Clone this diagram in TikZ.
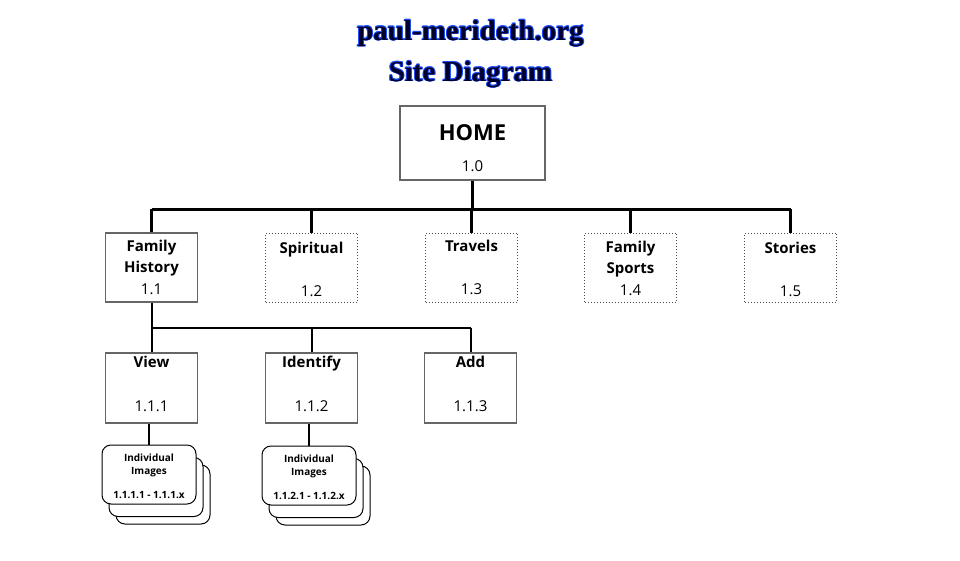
\documentclass[tikz,border=0pt]{standalone}
\usepackage{fontspec}
\setmainfont{Open Sans}
\newfontfamily\titlefont{Liberation Serif}
\usepackage{xcolor}
\definecolor{navy}{HTML}{00002A}
\definecolor{glow}{HTML}{1E50FF}
\definecolor{rim}{HTML}{666666}

\begin{document}
\begin{tikzpicture}[x=1pt,y=-1pt,
		box/.style={draw=rim,line width=1.2pt,minimum width=#1,minimum height=70pt,inner sep=0pt},
		box/.default=92pt,
		dotbox/.style={draw=black!70,dotted,line width=1pt,minimum width=92pt,minimum height=69pt,inner sep=0pt},
		pile/.style={draw,fill=white,rounded corners=9pt,line width=1pt,minimum width=94pt,minimum height=59pt,inner sep=0pt},
		head/.style={anchor=base,font=\bfseries\fontsize{15}{15}\selectfont},
		num/.style={anchor=base,font=\fontsize{15}{15}\selectfont},
		tiny/.style={anchor=base,font=\bfseries\fontsize{10}{10}\selectfont},
		title/.style={anchor=base,font=\titlefont\bfseries\fontsize{29}{29}\selectfont}]
			\useasboundingbox (0,0) rectangle (960,560);
			% title, with a blue halo behind it
			\foreach \dx/\dy [count=\i] in {-0.9/0,0.9/0,0/-0.9,0/0.9,-0.6/-0.6,0.6/-0.6,-0.6/0.6,0.6/0.6}{
				\node[title,text=glow] (t1s\i) at (470.5+\dx,40+\dy) {paul-merideth.org};
				\node[title,text=glow] (t2s\i) at (470.5+\dx,81+\dy) {Site Diagram};
			}
			\node[title,text=navy] (t1) at (470.5,40) {paul-merideth.org};
			\node[title,text=navy] (t2) at (470.5,81) {Site Diagram};
			% home
			\node[box=145pt,minimum height=74pt] (home) at (472.5,143) {};
			\node[head,font=\bfseries\fontsize{22}{22}\selectfont] (home-t) at (472.5,140) {HOME};
			\node[num,font=\fontsize{15}{15}\selectfont] (home-n) at (472.5,171) {1.0};
			% first level
			\node[box,minimum height=69pt] (fh) at (151.5,267.5) {};
			\node[dotbox] (sp) at (311.5,267.5) {};
			\node[dotbox] (tr) at (471.5,267.5) {};
			\node[dotbox] (fs) at (630.5,267.5) {};
			\node[dotbox] (st) at (790.5,267.5) {};
			\node[head] (fh-t) at (151.5,251) {Family};
			\node[head] (fh-u) at (151.5,272) {History};
			\node[num] (fh-n) at (151.5,294) {1.1};
			\node[head] (sp-t) at (311.5,253) {Spiritual};
			\node[num] (sp-n) at (311.5,296) {1.2};
			\node[head] (tr-t) at (471.5,251) {Travels};
			\node[num] (tr-n) at (471.5,294) {1.3};
			\node[head] (fs-t) at (630.5,252) {Family};
			\node[head] (fs-u) at (630.5,273) {Sports};
			\node[num] (fs-n) at (630.5,295) {1.4};
			\node[head] (st-t) at (790.5,253) {Stories};
			\node[num] (st-n) at (790.5,296) {1.5};
			\coordinate (bus) at (0,209);
			\draw[line width=3pt] (home.south) -- (home.south |- bus);
			\draw[line width=3pt] (fh.north |- bus) -- (st.north |- bus);
			\foreach \n in {fh,sp,tr,fs,st}
				\draw[line width=3pt] (\n.north) -- (\n.north |- bus);
			% second level
			\node[box] (vw) at (151.5,388) {};
			\node[box] (id) at (311.5,388) {};
			\node[box] (ad) at (470.5,388) {};
			\node[head] (vw-t) at (151.5,367) {View};
			\node[num] (vw-n) at (151.5,411) {1.1.1};
			\node[head] (id-t) at (311.5,367) {Identify};
			\node[num] (id-n) at (311.5,411) {1.1.2};
			\node[head] (ad-t) at (470.5,367) {Add};
			\node[num] (ad-n) at (470.5,411) {1.1.3};
			\coordinate (sub) at (0,328);
			\draw[line width=2pt] (fh.south) -- (fh.south |- sub);
			\draw[line width=2pt] (fh.south |- sub) -- (ad.north |- sub);
			\foreach \n in {vw,id,ad}
				\draw[line width=2pt] (\n.north) -- (\n.north |- sub);
			% image piles
			\node[pile] (vw-p3) at (163,494.5) {};
			\node[pile] (vw-p2) at (156,487) {};
			\node[pile] (vw-p1) at (149,474.5) {};
			\node[pile] (id-p3) at (323,495.5) {};
			\node[pile] (id-p2) at (316,488) {};
			\node[pile] (id-p1) at (309,475.5) {};
			\node[tiny] (vw-a) at (149,461) {Individual};
			\node[tiny] (vw-b) at (149,474) {Images};
			\node[tiny] (vw-c) at (149,498) {1.1.1.1 - 1.1.1.x};
			\node[tiny] (id-a) at (309,462) {Individual};
			\node[tiny] (id-b) at (309,475) {Images};
			\node[tiny] (id-c) at (309,499) {1.1.2.1 - 1.1.2.x};
			\draw[line width=2pt] (vw.south -| vw-p1.north) -- (vw-p1.north);
			\draw[line width=2pt] (id.south -| id-p1.north) -- (id-p1.north);
		\end{tikzpicture}
\end{document}
